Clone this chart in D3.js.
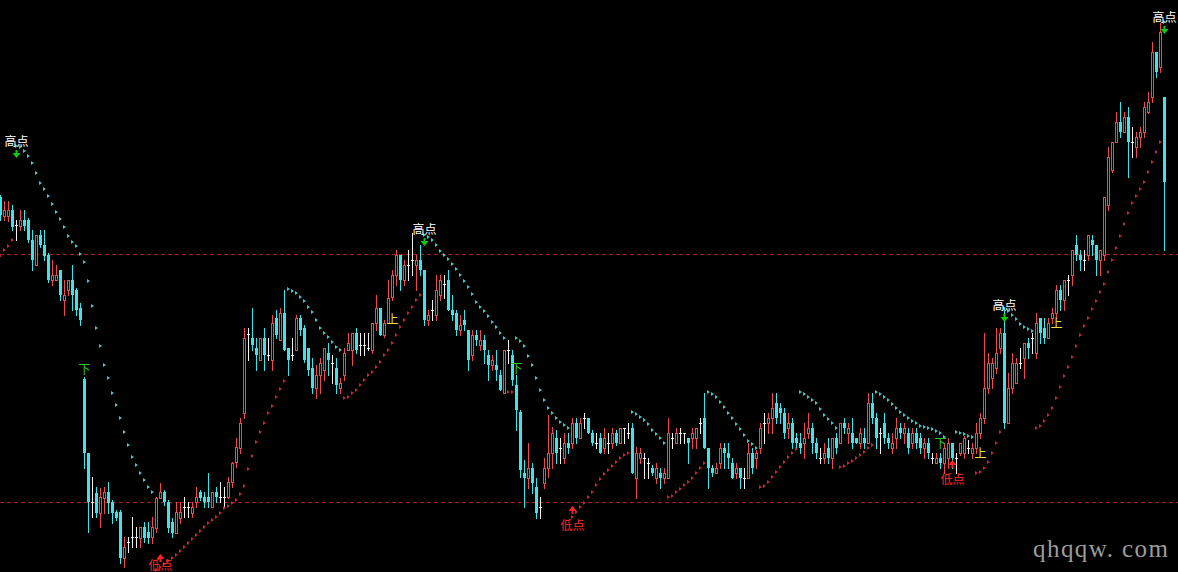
<!DOCTYPE html>
<html><head><meta charset="utf-8">
<script src="https://cdn.jsdelivr.net/npm/d3@7"></script>
<style>html,body{margin:0;padding:0;background:#000;overflow:hidden}</style>
</head><body><svg id="c" width="1178" height="572"></svg>
<script>
// price units (arbitrary), one value per bar, bars 0..291
const open=[403,384,384,390,375,374,380,380,360,335,
365,355,345,320,320,330,300,310,320,310,
292,221,147,98,107,87,102,108,98,88,
88,42,58,63,63,62,73,68,63,72,
102,108,98,78,67,82,93,93,87,98,
108,103,103,93,108,103,103,103,118,138,
152,187,266,262,252,240,262,245,240,282,
260,287,252,245,250,282,272,252,232,212,
225,230,247,237,232,212,225,250,250,267,
255,255,252,250,277,292,265,277,303,325,
345,320,335,340,335,340,330,280,290,285,
305,316,320,290,287,270,280,270,245,265,
255,260,245,235,235,225,207,250,245,215,
188,127,122,132,113,93,117,132,147,162,
152,142,157,157,177,162,182,182,167,157,
162,152,157,157,167,157,172,167,172,122,
142,142,137,132,122,127,122,122,162,157,
167,167,162,162,162,177,182,152,132,127,
137,152,147,137,127,132,122,122,147,142,
152,177,177,182,197,192,187,172,177,162,
157,157,167,172,157,142,142,152,142,162,
157,177,167,167,162,157,162,157,197,182,
167,177,162,152,162,172,167,167,157,167,
162,152,157,142,137,142,137,142,157,142,
147,147,152,147,152,167,182,212,222,232,
252,267,177,212,217,237,242,257,262,247,
282,272,262,282,287,310,300,320,325,355,
345,340,345,360,355,340,345,395,430,458,
478,468,483,458,453,463,468,488,503,548,
533,503];
const high=[405,399,399,395,380,390,390,382,370,365,
370,370,347,340,335,330,320,320,335,312,
297,223,147,123,113,112,113,118,100,90,
90,63,63,83,73,73,78,78,83,103,
117,110,100,82,98,98,103,98,98,113,
110,108,127,108,113,118,113,123,138,162,
182,272,272,292,262,262,272,262,285,290,
292,310,252,262,285,285,275,252,242,235,
242,252,257,245,242,222,252,267,267,272,
267,267,267,277,305,292,280,320,330,350,
345,340,350,367,345,355,330,290,300,325,
325,325,330,305,290,285,290,270,270,270,
270,265,250,245,250,230,250,260,250,225,
190,140,157,137,122,103,142,185,173,170,
162,167,167,182,182,182,187,182,170,167,
167,172,167,172,170,172,172,177,177,153,
152,147,142,135,137,132,132,182,167,172,
172,167,162,172,172,182,207,152,135,137,
157,157,157,142,137,132,132,157,152,150,
177,187,187,207,207,197,192,187,182,167,
167,177,187,177,162,152,157,162,162,167,
177,182,177,182,162,172,172,207,207,187,
172,187,167,167,182,177,177,172,172,172,
167,162,162,147,147,147,157,162,157,147,
157,164,160,157,177,187,267,247,242,272,
272,292,227,247,242,252,257,262,267,287,
282,282,282,292,315,315,320,325,350,365,
350,350,365,365,355,350,403,453,458,488,
498,488,493,473,468,473,498,508,558,548,
577,503];
const low=[380,380,379,370,360,370,370,358,330,335,
353,340,318,315,320,300,285,305,290,285,
275,132,68,83,83,73,87,87,77,80,
37,33,48,53,53,53,58,57,57,68,
102,95,68,63,67,77,83,83,83,93,
100,93,93,93,98,98,93,102,113,133,
147,182,240,250,230,240,230,240,230,262,
260,250,225,240,250,265,238,225,207,202,
207,220,225,217,207,207,220,250,235,247,
245,245,250,247,270,265,263,277,300,315,
310,315,320,325,310,325,275,275,280,280,
300,302,290,280,265,265,270,230,240,255,
250,237,220,230,220,210,207,237,215,170,
123,93,112,107,82,82,112,123,132,137,
137,137,147,152,157,162,172,167,155,152,
147,147,147,152,155,157,157,162,127,102,
137,122,122,125,117,112,117,122,152,157,
157,157,137,152,152,167,152,112,124,127,
132,132,132,122,122,112,112,122,127,132,
147,157,167,167,177,177,162,162,152,152,
147,142,162,147,142,137,137,137,132,147,
157,167,157,152,157,152,152,157,177,152,
147,157,152,147,152,162,157,147,152,152,
147,142,142,137,137,132,127,132,132,127,
145,142,147,142,147,162,177,207,212,227,
247,172,177,207,217,232,222,242,247,242,
257,257,262,277,282,290,290,305,315,340,
330,330,340,345,325,325,340,390,428,458,
463,468,423,443,443,453,463,487,498,523,
528,350];
const close=[385,390,390,373,375,380,374,360,340,365,
355,344,320,325,325,305,305,320,305,290,
280,147,98,98,87,103,108,97,87,82,
42,53,58,63,63,73,62,62,73,102,
108,98,72,67,88,88,93,93,93,103,
102,98,98,108,103,103,103,118,137,153,
177,262,266,255,245,262,245,245,277,265,
287,250,240,245,282,270,240,230,212,225,
237,252,240,237,215,217,247,257,267,250,
255,255,252,277,292,265,277,302,325,345,
320,335,335,340,340,330,280,285,290,310,
320,316,290,285,270,275,275,240,265,260,
260,250,235,240,230,210,250,250,220,190,
130,122,132,117,87,93,132,147,167,147,
152,157,152,177,162,177,182,167,157,157,
147,162,157,167,157,172,172,167,127,147,
147,142,137,127,132,122,127,167,162,167,
167,167,157,167,172,177,152,132,127,132,
152,147,142,122,132,122,122,147,132,147,
172,177,182,192,182,187,167,177,157,157,
152,162,172,157,147,142,147,142,162,152,
177,172,172,157,157,167,157,197,182,162,
167,162,157,157,172,167,172,152,167,157,
152,157,147,142,142,137,152,157,142,142,
157,162,152,152,167,182,212,237,237,247,
267,177,212,237,237,237,257,252,262,277,
267,262,277,287,310,300,320,320,350,345,
340,340,365,355,340,350,403,443,458,478,
468,483,458,458,463,468,493,498,548,528,
568,418];
// stop-and-reverse dots (null = no dot)
const sar=[344,350,354,360,454,453,449,444,437,427,
417,411,404,396,388,381,373,364,358,354,
346,338,319,294,272,254,235,222,207,195,
182,168,155,143,135,127,120,113,108,30,
33,36,39,42,45,49,53,57,61,65,
69,73,77,80,83,87,92,94,97,100,
106,114,131,144,158,168,177,187,194,203,
211,219,311,309,307,303,299,293,288,280,
272,267,263,258,253,250,202,203,207,210,
215,220,225,228,233,238,245,250,257,265,
273,280,287,293,300,305,365,363,360,355,
349,345,341,336,331,325,319,313,306,298,
293,289,284,278,273,267,262,208,208,262,
259,254,244,235,222,210,200,192,187,182,
178,175,172,83,88,93,97,103,108,115,
121,126,130,134,138,142,145,147,188,186,
183,180,176,170,166,162,157,103,104,108,
111,115,118,122,127,132,137,208,206,203,
198,193,187,182,176,171,165,159,156,152,
113,114,118,123,128,133,138,143,147,151,
208,206,203,200,197,191,185,181,177,172,
133,134,137,139,142,145,148,152,155,208,
206,203,200,196,192,188,185,182,179,177,
174,173,172,171,169,167,163,null,null,168,
167,166,164,163,127,128,132,138,147,157,
168,292,289,285,281,276,273,271,269,172,
174,179,185,192,202,213,224,233,243,254,
265,274,282,291,299,308,316,328,340,352,
364,376,387,397,404,411,418,428,438,448,
458,578];
const refLevels=[346,98];
const highMarkIdx=[4,106,251,291];
const highMarkVal=[446,358,282,570];
const highMarkText=["高点","高点","高点","高点"];
const lowMarkIdx=[40,143,238];
const lowMarkVal=[42,90,136];
const lowMarkText=["低点","低点","低点"];
const upSigIdx=[97,244,263];
const upSigVal=[282,148,278];
const upSigText=["上","上","上"];
const downSigIdx=[21,129,235];
const downSigVal=[232,233,158];
const downSigText=["下","下","下"];
const watermark="qhqqw. com";

const W=1178,H=572;
const svg=d3.select("#c");
svg.append("rect").attr("width",W).attr("height",H).attr("fill","#000");
const x=d3.scaleLinear().domain([0,291]).range([0.5,1164.5]);
const y=d3.scaleLinear().domain([0,600]).range([600,0]);

const RED="#e84c4c", CYAN="#3fe3ea", WHITE="#f2f2f2";

// reference lines
svg.append("g").selectAll("line").data(refLevels).join("line")
  .attr("x1",0).attr("x2",W)
  .attr("y1",d=>Math.round(y(d))+0.5).attr("y2",d=>Math.round(y(d))+0.5)
  .attr("stroke","#a3201f").attr("stroke-width",1).attr("stroke-dasharray","4,3");

const bars=d3.range(open.length).map(i=>({i,o:open[i],h:high[i],l:low[i],c:close[i]}));
const g=svg.append("g").attr("shape-rendering","crispEdges");

bars.forEach(b=>{
  const cx=x(b.i);
  if(b.c>b.o){ // up: hollow red
    const top=y(b.c), bot=y(b.o);
    if(y(b.h)<top) g.append("line").attr("x1",cx).attr("x2",cx).attr("y1",y(b.h)).attr("y2",top).attr("stroke",RED);
    if(y(b.l)>bot) g.append("line").attr("x1",cx).attr("x2",cx).attr("y1",bot+1).attr("y2",y(b.l)+1).attr("stroke",RED);
    g.append("rect").attr("x",cx-1).attr("y",top+0.5).attr("width",2).attr("height",Math.max(0.5,bot-top))
      .attr("fill","#000").attr("stroke",RED).attr("stroke-width",1);
  } else if(b.c<b.o){ // down: filled cyan
    g.append("line").attr("x1",cx).attr("x2",cx).attr("y1",y(b.h)).attr("y2",y(b.l)+1).attr("stroke",CYAN);
    g.append("rect").attr("x",cx-1.5).attr("y",y(b.o)).attr("width",3).attr("height",Math.max(1,y(b.c)-y(b.o))).attr("fill",CYAN);
  } else { // doji
    g.append("line").attr("x1",cx).attr("x2",cx).attr("y1",y(b.h)).attr("y2",y(b.l)+1).attr("stroke",WHITE);
    g.append("line").attr("x1",cx-1.5).attr("x2",cx+1.5).attr("y1",y(b.c)+0.5).attr("y2",y(b.c)+0.5).attr("stroke",WHITE);
  }
});

// SAR dots
const sarPts=sar.map((v,i)=>({i,v})).filter(d=>d.v!==null);
svg.append("g").selectAll("path").data(sarPts).join("path")
  .attr("d",d=>{const cx=x(d.i)-0.5, cy=y(d.v); return `M${cx-1},${cy-2}L${cx+2},${cy}L${cx-1},${cy+2}Z`;})
  .attr("fill",d=>d.v>close[d.i]?"#46c8c8":"#c8282e");

// high marks
const font='"Noto Sans CJK SC","Noto Sans",sans-serif';
highMarkIdx.forEach((idx,k)=>{
  const cx=x(idx), cy=y(highMarkVal[k]);
  svg.append("text").attr("x",cx).attr("y",cy-8).attr("text-anchor","middle")
    .attr("font-family",font).attr("font-size",12).attr("fill","#ffffff").text(highMarkText[k]);
  svg.append("path").attr("d",`M${cx-1},${cy-4}L${cx+1},${cy-4}L${cx+1},${cy-1}L${cx+4},${cy-1}L${cx},${cy+4}L${cx-4},${cy-1}L${cx-1},${cy-1}Z`)
    .attr("fill","#10c810");
});
// low marks
lowMarkIdx.forEach((idx,k)=>{
  const cx=x(idx), cy=y(lowMarkVal[k]);
  svg.append("path").attr("d",`M${cx-1},${cy+4}L${cx+1},${cy+4}L${cx+1},${cy+1}L${cx+4},${cy+1}L${cx},${cy-4}L${cx-4},${cy+1}L${cx-1},${cy+1}Z`)
    .attr("fill","#ff2424");
  svg.append("text").attr("x",cx).attr("y",Math.min(cy+20,H-2)).attr("text-anchor","middle")
    .attr("font-family",font).attr("font-size",12).attr("fill","#ff2a2a").text(lowMarkText[k]);
});
// signals
upSigIdx.forEach((idx,k)=>{
  svg.append("text").attr("x",x(idx)-2).attr("y",y(upSigVal[k])).attr("dominant-baseline","central")
    .attr("font-family",font).attr("font-size",12).attr("fill","#f0e040").text(upSigText[k]);
});
downSigIdx.forEach((idx,k)=>{
  svg.append("text").attr("x",x(idx)).attr("y",y(downSigVal[k])).attr("dominant-baseline","central").attr("text-anchor","middle")
    .attr("font-family",font).attr("font-size",12).attr("fill","#30c830").text(downSigText[k]);
});

svg.append("text").attr("x",1033).attr("y",557).attr("font-family",'"Liberation Serif","DejaVu Serif",serif')
  .attr("font-size",25).attr("fill","#9c9c9c").attr("textLength",135).attr("lengthAdjust","spacing").text(watermark);
</script></body></html>
